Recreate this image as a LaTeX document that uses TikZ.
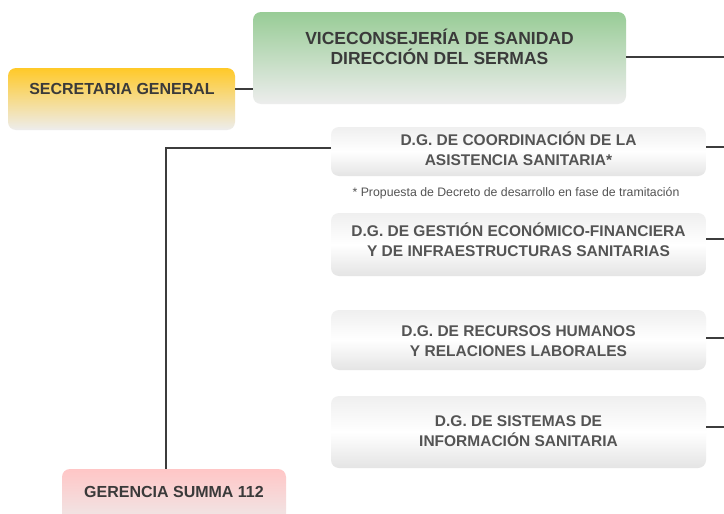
\documentclass[tikz,border=0pt]{standalone}
\usepackage{fontspec}
\setmainfont{Liberation Sans}
\definecolor{linec}{HTML}{3C3C3C}
\definecolor{darktxt}{HTML}{3A3A3A}
\definecolor{graytxt}{HTML}{545454}
\definecolor{yel}{HTML}{FFC928}
\definecolor{grn}{HTML}{98CC96}
\definecolor{pnk}{HTML}{FFC6C6}
\definecolor{boxbot}{HTML}{EDEDED}
\definecolor{gtop}{HTML}{EFEFEF}
\definecolor{gbot}{HTML}{E4E4E4}
\begin{document}
\begin{tikzpicture}[x=1pt,y=-1pt,
  boxbase/.style={rounded corners=8pt, inner sep=0pt, draw=none},
  colbox/.style={boxbase, top color=#1, bottom color=boxbot},
  graybox/.style={boxbase, top color=gtop, bottom color=gbot, middle color=white},
  coltxt/.style={align=center, font=\fontsize{16}{20}\selectfont\bfseries, text=darktxt, inner sep=0pt},
  dgtxt/.style={coltxt, font=\fontsize{15.5}{20}\selectfont\bfseries, text=graytxt},
  conn/.style={draw=linec, line width=2pt}]
\path[use as bounding box, fill=white] (0,0) rectangle (724,514);

% colored boxes
\path[colbox=yel] (8,68) rectangle (235,130);
\node[coltxt] (sec) at (122,89) {SECRETARIA GENERAL};
\path[colbox=grn] (253,12) rectangle (626,104);
\node[coltxt, font=\fontsize{17.5}{20}\selectfont\bfseries] (vice) at (439.5,47) {VICECONSEJERÍA DE SANIDAD\\DIRECCIÓN DEL SERMAS};
\path[colbox=pnk] (62,469) rectangle (286,530);
\node[coltxt] (ger) at (174,492) {GERENCIA SUMMA 112};

% gray boxes
\path[graybox] (331,127) rectangle (706,176);
\node[dgtxt] (dg1) at (518.5,149) {D.G. DE COORDINACIÓN DE LA\\ASISTENCIA SANITARIA*};
\node[font=\fontsize{12.3}{14}\selectfont, text=graytxt, inner sep=0pt] (note) at (516,193) {* Propuesta de Decreto de desarrollo en fase de tramitación};
\path[graybox] (331,213) rectangle (706,276);
\node[dgtxt] (dg2) at (518.5,240) {D.G. DE GESTIÓN ECONÓMICO-FINANCIERA\\Y DE INFRAESTRUCTURAS SANITARIAS};
\path[graybox] (331,310) rectangle (706,370);
\node[dgtxt] (dg3) at (518.5,341) {D.G. DE RECURSOS HUMANOS\\Y RELACIONES LABORALES};
\path[graybox] (331,396) rectangle (706,468);
\node[dgtxt] (dg4) at (518.5,431) {D.G. DE SISTEMAS DE\\INFORMACIÓN SANITARIA};

% connector anchors
\coordinate (secR) at (235,89);
\coordinate (viceL) at (253,89);
\coordinate (viceR) at (626,57);
\coordinate (e0) at (724,57);
\coordinate (dg1L) at (331,148);
\coordinate (dg1R) at (706,147);
\coordinate (e1) at (724,147);
\coordinate (dg2R) at (706,239);
\coordinate (e2) at (724,239);
\coordinate (dg3R) at (706,338);
\coordinate (e3) at (724,338);
\coordinate (dg4R) at (706,427);
\coordinate (e4) at (724,427);
\coordinate (gerT) at (166,469);

\draw[conn] (secR) -- (viceL);
\draw[conn] (viceR) -- (e0);
\draw[conn] (dg1R) -- (e1);
\draw[conn] (dg2R) -- (e2);
\draw[conn] (dg3R) -- (e3);
\draw[conn] (dg4R) -- (e4);
\draw[conn] (dg1L) -| (gerT);
\end{tikzpicture}
\end{document}
